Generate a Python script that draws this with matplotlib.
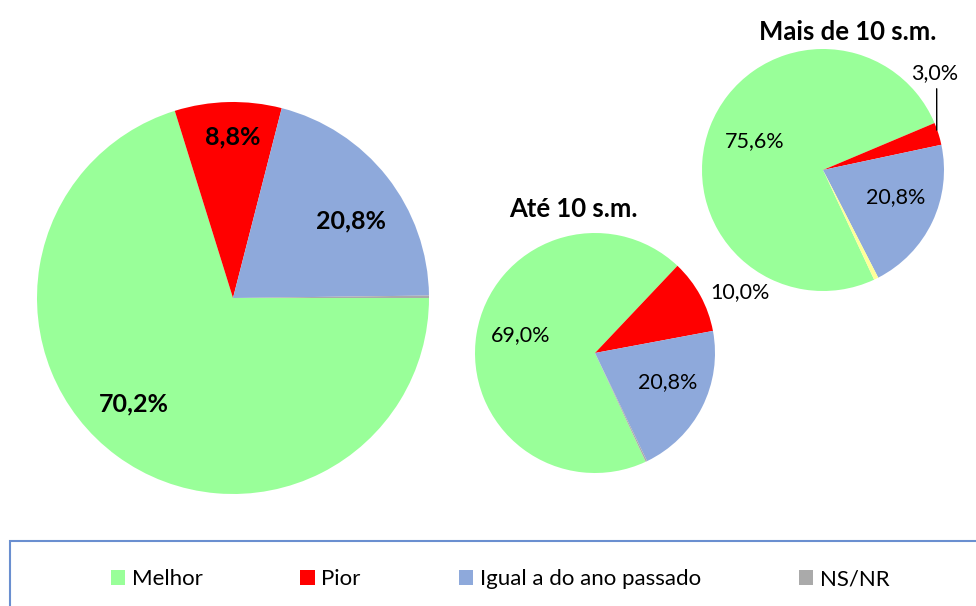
import numpy as np
from matplotlib import pyplot as plt
from matplotlib.patches import Patch, Rectangle

plt.rcParams['font.family'] = ['Lato', 'DejaVu Sans']

categories = ['Melhor', 'Pior', 'Igual a do ano passado', 'NS/NR']
colors = ['#99FF99', '#FF0000', '#8EA9DB', '#AAAAAA']

total = [70.2, 8.8, 20.8, 0.2]
ate_10 = [69.0, 10.0, 20.8, 0.2]
mais_10 = [75.6, 3.0, 20.8, 0.6]
mais_10_colors = ['#99FF99', '#FF0000', '#8EA9DB', '#FFFF99']

total_labels = ['70,2%', '8,8%', '20,8%', '']
ate_10_labels = ['69,0%', '10,0%', '20,8%', '']
mais_10_labels = ['75,6%', '3,0%', '20,8%', '']

fig = plt.figure(figsize=(9.76, 6.06), dpi=100)
W, H = 976, 606


def pie_axes(cx, cy, r):
    return fig.add_axes([(cx - r) / W, (H - cy - r) / H, 2 * r / W, 2 * r / H])


def draw_pie(ax, values, cols, start):
    wedges, _ = ax.pie(values, colors=cols, startangle=start, counterclock=False,
                       radius=1, wedgeprops=dict(linewidth=0))
    ax.set_xlim(-1, 1)
    ax.set_ylim(-1, 1)
    ax.set_aspect('equal')
    return wedges


def mid(w):
    return np.deg2rad((w.theta1 + w.theta2) / 2)


# big pie
ax1 = pie_axes(233, 298, 196)
w1 = draw_pie(ax1, total, colors, 0)
tweak1 = [(0.74, -7), (0.82, -1.5), (0.72, -5)]
for w, lab, (d, dt) in zip(w1, total_labels, tweak1):
    a = mid(w) + np.deg2rad(dt)
    ax1.text(d * np.cos(a), d * np.sin(a), lab, ha='center', va='center',
             fontsize=18, fontweight='bold')

# middle pie
ax2 = pie_axes(595, 353, 120)
w2 = draw_pie(ax2, ate_10, colors, -65)
tweak2 = [(0.64, -4), (1.31, -6), (0.65, 5)]
for w, lab, (d, dt) in zip(w2, ate_10_labels, tweak2):
    a = mid(w) + np.deg2rad(dt)
    ax2.text(d * np.cos(a), d * np.sin(a), lab, ha='center', va='center', fontsize=15.5)
ax2.text(-0.18, 1.13, 'Até 10 s.m.', ha='center', va='baseline', fontsize=18.5,
         fontweight='bold')

# right pie
ax3 = pie_axes(823, 170, 121)
w3 = draw_pie(ax3, mais_10, mais_10_colors, -65)
tweak3 = [(0.61, -2), (0, 0), (0.64, 5)]
for i, (w, lab, (d, dt)) in enumerate(zip(w3, mais_10_labels, tweak3)):
    if i == 1:
        ax3.annotate(lab, xy=(0.94, 0.33), xytext=(0.92, 0.80),
                     ha='center', va='center', fontsize=15.5,
                     arrowprops=dict(arrowstyle='-', color='black', lw=1,
                                     shrinkA=2, shrinkB=0, relpos=(0.55, 0)))
        continue
    a = mid(w) + np.deg2rad(dt)
    ax3.text(d * np.cos(a), d * np.sin(a), lab, ha='center', va='center', fontsize=15.5)
ax3.text(0.2, 1.075, 'Mais de 10 s.m.', ha='center', va='baseline', fontsize=18.5,
         fontweight='bold')

# legend box
fig.patches.append(Rectangle((10 / W, -0.1), 1.1, (H - 541) / H + 0.1,
                             transform=fig.transFigure, fill=False,
                             edgecolor='#6A8FD0', lw=1.5))
handles = [Patch(facecolor=c, edgecolor='none') for c in colors]
fig.legend(handles, categories, loc='center', bbox_to_anchor=(500 / W, 27 / H),
           ncol=4, frameon=False, fontsize=16, handlelength=0.65,
           handleheight=0.65, handletextpad=0.3, columnspacing=4.4)

plt.savefig('out.png', dpi=100)
